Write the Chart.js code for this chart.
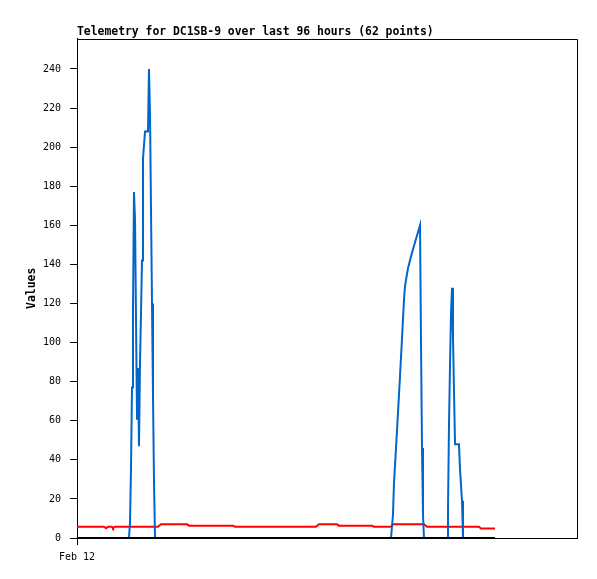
<!DOCTYPE html>
<html>
<head>
<meta charset="utf-8">
<script src="https://cdn.jsdelivr.net/npm/chart.js@4.4.1/dist/chart.umd.min.js"></script>
<style>
  body { margin: 0; background: #fff; }
  #wrap { width: 597px; height: 579px; }
</style>
</head>
<body>
<div id="wrap"><canvas id="chart-area" width="597" height="579"></canvas></div>
<script>
// hours since Feb 12 00:00
var hours = [0, 2.88, 5.18, 5.57, 5.95, 6.72, 6.91, 7.30, 9.98, 10.18,
  10.37, 10.56, 10.75, 10.94, 11.14, 11.33, 11.52, 11.71, 11.90, 12.10,
  12.29, 12.48, 12.67, 13.06, 13.63, 13.82, 14.02, 14.21, 14.40, 14.59,
  14.78, 14.98, 15.55, 16.13, 21.12, 21.50, 29.95, 30.34, 45.89, 46.46,
  49.92, 50.30, 56.64, 57.02, 60.29, 60.67, 60.86, 61.25, 61.63, 62.02,
  62.40, 62.78, 62.98, 63.55, 64.32, 65.09, 65.86, 66.05, 66.24, 66.43,
  66.62, 67.20, 71.04, 71.23, 71.42, 71.62, 71.81, 72.00, 72.19, 72.38,
  72.58, 73.34, 73.54, 73.92, 74.11, 77.18, 77.57, 80.26];

var blueVals = [0, 0, 0, 0, 0, 0, 0, 0, 0, 8,
  36, 77, 116, 177, 163, 112, 61, 87, 47, 90,
  115, 142, 194, 208, 208, 240, 217, 168, 120, 73,
  30, 0, 0, 0, 0, 0, 0, 0, 0, 0,
  0, 0, 0, 0, 0, 12, 28, 46, 64, 83,
  102, 122, 129, 138, 146, 153, 160, 100, 46, 12,
  0, 0, 0, 14, 57, 89, 115, 128, 103, 76,
  48, 48, 35, 19, 0, 0, 0, 0];

var redVals = [5.8, 5.8, 5.8, 5.0, 5.8, 5.8, 5.0, 5.8, 5.8, 5.8,
  5.8, 5.8, 5.8, 5.8, 5.8, 5.8, 5.8, 5.8, 5.8, 5.8,
  5.8, 5.8, 5.8, 5.8, 5.8, 5.8, 5.8, 5.8, 5.8, 5.8,
  5.8, 5.8, 5.8, 7.0, 7.0, 6.3, 6.3, 5.8, 5.8, 7.0,
  7.0, 6.3, 6.3, 5.8, 5.8, 7.0, 7.0, 7.0, 7.0, 7.0,
  7.0, 7.0, 7.0, 7.0, 7.0, 7.0, 7.0, 7.0, 7.0, 7.0,
  7.0, 5.8, 5.8, 5.8, 5.8, 5.8, 5.8, 5.8, 5.8, 5.8,
  5.8, 5.8, 5.8, 5.8, 5.8, 5.8, 4.8, 4.8];

var blackVals = hours.map(function () { return 0; });

var xTickLabels = ['Feb 12'];
var yStep = 20;

function pts(vals) {
  return hours.map(function (h, i) { return { x: h, y: vals[i] }; });
}

var mono = "'DejaVu Sans Mono', monospace";

// top + right border of the plot box
var boxPlugin = {
  id: 'box',
  beforeDatasetsDraw: function (chart) {
    var a = chart.chartArea, c = chart.ctx;
    c.save();
    c.strokeStyle = '#000';
    c.lineWidth = 1;
    c.beginPath();
    c.moveTo(a.left, Math.round(a.top) + 0.5);
    c.lineTo(Math.round(a.right) + 0.5, Math.round(a.top) + 0.5);
    c.lineTo(Math.round(a.right) + 0.5, a.bottom);
    c.stroke();
    c.restore();
  }
};

var config = {
  type: 'line',
  data: {
    datasets: [
      { label: 'c', data: pts(blackVals), borderColor: '#000000', borderWidth: 2 },
      { label: 'a', data: pts(blueVals), borderColor: 'rgb(0,102,204)', borderWidth: 2 },
      { label: 'b', data: pts(redVals), borderColor: '#ff0000', borderWidth: 2 }
    ]
  },
  options: {
    responsive: false,
    animation: false,
    layout: { padding: { left: 0, right: 20, top: 0, bottom: 0 } },
    elements: { point: { radius: 0 }, line: { tension: 0 } },
    plugins: {
      legend: { display: false },
      tooltip: { enabled: false },
      title: {
        display: true,
        text: 'Telemetry for DC1SB-9 over last 96 hours (62 points)',
        align: 'start',
        fullSize: false,
        color: '#000',
        font: { family: mono, size: 11.4, weight: 'bold' },
        padding: { top: 25, bottom: 0 }
      }
    },
    scales: {
      x: {
        type: 'linear',
        min: 0,
        max: 96,
        afterFit: function (s) { s.height = 41; },
        afterBuildTicks: function (s) { s.ticks = [{ value: 0 }]; },
        ticks: {
          callback: function (v, i) { return xTickLabels[i]; },
          color: '#000',
          font: { family: mono, size: 10 },
          padding: 6,
          maxRotation: 0
        },
        grid: { drawOnChartArea: false, drawTicks: true, tickLength: 7, color: '#000' },
        border: { display: true, color: '#000', width: 1 }
      },
      y: {
        min: 0,
        max: 255.5,
        afterFit: function (s) { s.width = 77; },
        ticks: {
          stepSize: yStep,
          includeBounds: false,
          color: '#000',
          font: { family: mono, size: 10 },
          padding: 9
        },
        grid: { drawOnChartArea: false, drawTicks: true, tickLength: 7, color: '#000' },
        border: { display: true, color: '#000', width: 1 },
        title: {
          display: true,
          text: 'Values',
          color: '#000',
          font: { family: mono, size: 11.4, weight: 'bold' },
          padding: { top: 25, bottom: 0 }
        }
      }
    }
  },
  plugins: [boxPlugin]
};

var ctx = document.getElementById('chart-area').getContext('2d');
window.myChart = new Chart(ctx, config);
</script>
</body>
</html>
